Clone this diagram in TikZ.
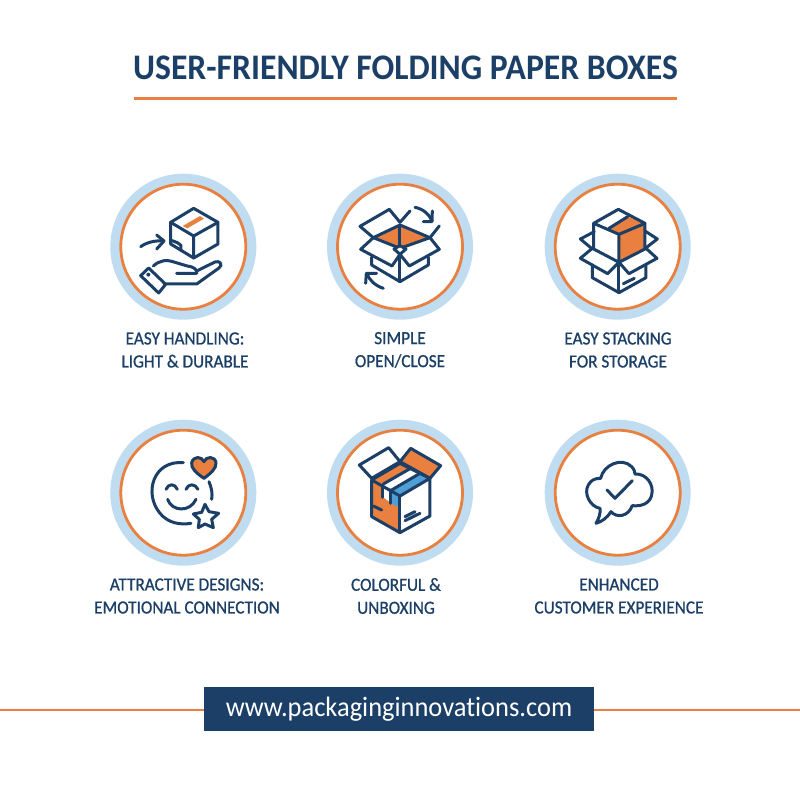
\documentclass[tikz,border=0pt]{standalone}
\usepackage{fontspec}
\setmainfont{Carlito}
\newfontfamily\titlefont[FakeStretch=0.935,BoldFont={Carlito Bold}]{Carlito}
\newfontfamily\capfont[FakeStretch=0.93,FakeBold=0.8]{Carlito}
\newfontfamily\urlfont[FakeStretch=0.945,Ligatures=NoCommon]{Carlito}
\definecolor{navy}{HTML}{1B3F66}
\definecolor{orng}{HTML}{E9803F}
\definecolor{lblue}{HTML}{BFDCF1}
\definecolor{sky}{HTML}{4F9FD6}
\tikzset{
  ring/.style={circle,draw=orng,line width=2.8pt,fill=white,minimum size=125pt,inner sep=0pt},
  halo/.style={circle,fill=lblue,minimum size=146pt,inner sep=0pt},
  caption/.style={align=center,text=navy,font=\capfont\fontsize{18.5}{23}\selectfont},
  ink/.style={draw=navy,line width=3pt,line join=round,line cap=round},
  icon/.style={x=0.3333pt,y=-0.3333pt},
  footline/.style={draw=orng,line width=2pt}
}
\begin{document}
\begin{tikzpicture}[x=1pt,y=-1pt]
\useasboundingbox (0,0) rectangle (800,800);
\fill[white] (0,0) rectangle (800,800);
\node[text=navy,font=\titlefont\bfseries\fontsize{36}{42}\selectfont] (title) at (405.5,68) {USER-FRIENDLY FOLDING PAPER BOXES};
\coordinate (ruleL) at (134,98.5);
\coordinate (ruleR) at (677,98.5);
\draw[orng,line width=2.4pt] (ruleL) -- (ruleR);
% rings
\foreach \n/\cx/\cy in {a/183.3/246.7,b/400/246.7,c/617.7/246.7,d/183.3/492.7,e/400/492.7,f/617.7/492.7}{
  \node[halo] (h\n) at (\cx,\cy) {};
  \node[ring] (r\n) at (\cx,\cy) {};
}
% icon 1
\begin{scope}[shift={(100,165)},icon]
 \fill[orng] (248,183) -- (300,153) -- (312,161) -- (262,190) -- cycle;
 \draw[ink] (281,130) -- (354,172) -- (354,237) -- (281,279) -- (212,237) -- (212,172) -- cycle;
 \draw[ink] (212,172) -- (281,213) -- (354,172) (281,213) -- (281,279);
 \draw[ink] (214,226) -- (232,233) -- (243,241) -- (243,258);
 \draw[ink] (122,245) .. controls (140,232) and (165,226) .. (190,228);
 \draw[ink] (170,210) -- (192,228) -- (170,252);
 \draw[ink] (160,303) .. controls (180,285) and (200,283) .. (225,292) -- (262,303) .. controls (280,304) and (295,316) .. (290,325) -- (230,325);
 \draw[ink] (290,318) -- (345,291) .. controls (360,285) and (370,300) .. (357,309) -- (290,357) -- (192,357);
 \draw[ink] (146,309) -- (197,358) -- (176,384) -- (122,332) -- cycle;
 \fill[navy] (145,329) circle (6);
\end{scope}
% icon 2
\begin{scope}[shift={(320,165)},icon]
 \fill[orng] (240,180) -- (330,218) -- (240,247) -- (160,218) -- cycle;
 \draw[ink] (240,180) -- (160,218) -- (240,250) -- (330,218) -- cycle;
 \draw[ink] (240,172) -- (270,138);
 \draw[ink] (330,218) -- (358,183);
 \draw[ink] (240,172) -- (208,133) -- (120,184) -- (160,218);
 \draw[ink] (240,180) -- (240,240);
 \draw[ink] (160,218) -- (122,253) -- (216,303) -- (240,268) -- (268,303) -- (358,253) -- (330,218);
 \draw[ink,fill=white] (222,252) -- (240,242) -- (258,252) -- (240,268) -- cycle;
 \draw[ink] (155,277) -- (155,300) -- (240,350) -- (325,300) -- (325,277);
 \draw[ink] (240,268) -- (240,350);
 \draw[ink] (285,127) .. controls (310,132) and (328,148) .. (336,168);
 \draw[ink] (337,138) -- (336,170) -- (310,170);
 \draw[ink] (190,370) .. controls (165,362) and (148,345) .. (140,325);
 \draw[ink] (137,355) -- (139,325) -- (170,325);
\end{scope}
% icon 3
\begin{scope}[shift={(535,165)},icon]
 \draw[ink] (178,200) -- (136,222) -- (172,252);
 \draw[ink] (330,198) -- (367,222) -- (331,250);
 \fill[orng] (222,190) -- (278,155) -- (330,175) -- (330,252) -- (253,292) -- (253,208) -- cycle;
 \draw[ink] (250,133) -- (330,175) -- (330,252) -- (252,292) -- (176,252) -- (176,175) -- cycle;
 \draw[ink] (176,175) -- (252,208) -- (330,175) (252,208) -- (252,292);
 \draw[ink] (222,190) -- (278,155);
 \draw[ink] (172,250) -- (136,280) -- (218,326) -- (252,292) -- (282,326) -- (366,280) -- (333,250);
 \draw[ink] (172,300) -- (172,338) -- (252,383) -- (333,338) -- (333,300);
 \draw[ink] (252,292) -- (252,383);
 \draw[ink] (265,356) -- (298,340);
\end{scope}
% icon 4
\begin{scope}[shift={(100,410)},icon]
 \draw[ink] (250,158) .. controls (160,150) and (130,250) .. (180,310) .. controls (205,340) and (240,345) .. (273,340);
 \draw[ink] (327,215) .. controls (335,235) and (338,250) .. (335,268);
 \draw[ink] (198,238) .. controls (205,220) and (225,220) .. (232,238);
 \draw[ink] (258,238) .. controls (265,220) and (285,220) .. (294,238);
 \draw[ink] (203,268) .. controls (215,305) and (270,308) .. (288,268);
 \draw[ink,fill=orng] (312,205) .. controls (290,190) and (272,175) .. (275,158) .. controls (280,138) and (305,138) .. (312,155) .. controls (318,138) and (345,138) .. (348,158) .. controls (350,175) and (332,190) .. (312,205) -- cycle;
 \draw[ink] (315,283) -- (327,305) -- (356,310) -- (335,328) -- (340,353) -- (315,342) -- (295,353) -- (298,328) -- (280,312) -- (305,307) -- cycle;
\end{scope}
% icon 5
\begin{scope}[shift={(320,410)},icon]
 \fill[orng] (155,210) -- (240,160) -- (330,205) -- (240,255) -- (240,368) -- (155,320) -- cycle;
 \fill[sky] (215,240) -- (300,190) -- (330,205) -- (240,255) -- (240,295) -- (215,280) -- cycle;
 \fill[white] (190,222) -- (272,175) -- (300,190) -- (215,240) -- cycle;
 \fill[white] (190,222) -- (215,240) -- (215,280) -- (190,262) -- cycle;
 \draw[ink,fill=white] (155,205) -- (118,165) -- (206,113) -- (240,155) -- cycle;
 \draw[ink,fill=orng] (272,115) -- (362,167) -- (330,205) -- (240,155) -- cycle;
 \draw[ink] (155,210) -- (240,160) -- (330,205);
 \draw[ink] (155,210) -- (240,258) -- (330,205) -- (330,318) -- (240,368) -- (155,320) -- cycle;
 \draw[ink] (240,258) -- (240,368);
 \draw[ink] (190,222) -- (272,175);
 \draw[ink] (215,240) -- (300,190);
 \draw[ink] (188,228) -- (188,262);
 \draw[ink] (213,240) -- (213,280);
 \draw[ink] (160,288) -- (185,300);
 \draw[ink] (255,320) -- (285,305) (255,332) -- (300,310);
\end{scope}
% icon 6
\begin{scope}[shift={(535,410)},icon]
 \draw[ink] (183,340) .. controls (192,325) and (197,310) .. (195,295)
  .. controls (165,290) and (145,250) .. (160,225)
  .. controls (168,210) and (180,205) .. (197,205)
  .. controls (205,165) and (260,140) .. (290,170)
  .. controls (297,178) and (300,185) .. (300,192)
  .. controls (335,190) and (358,225) .. (350,255)
  .. controls (345,280) and (320,290) .. (292,287)
  .. controls (280,320) and (245,325) .. (228,305)
  .. controls (215,325) and (200,335) .. (183,340) -- cycle;
 \draw[ink] (216,240) -- (240,265) -- (292,212);
\end{scope}
% captions
\node[caption] (ca) at (185,350) {EASY HANDLING:\\LIGHT \& DURABLE};
\node[caption] (cb) at (400,350) {SIMPLE\\OPEN/CLOSE};
\node[caption] (cc) at (618,350) {EASY STACKING\\FOR STORAGE};
\node[caption] (cd) at (187,596) {ATTRACTIVE DESIGNS:\\EMOTIONAL CONNECTION};
\node[caption] (ce) at (396,596) {COLORFUL \&\\UNBOXING};
\node[caption] (cf) at (619,596) {ENHANCED\\CUSTOMER EXPERIENCE};
% footer
\node[fill=navy,text=white,minimum width=390pt,minimum height=44pt,inner sep=0pt,font=\urlfont\fontsize{28}{30}\selectfont] (url) at (399,709) {www.packaginginnovations.com};
\coordinate (fl) at (0,710);
\coordinate (fr) at (800,710);
\draw[footline] (fl) -- (fl -| url.west);
\draw[footline] (fr -| url.east) -- (fr);
\end{tikzpicture}
\end{document}
